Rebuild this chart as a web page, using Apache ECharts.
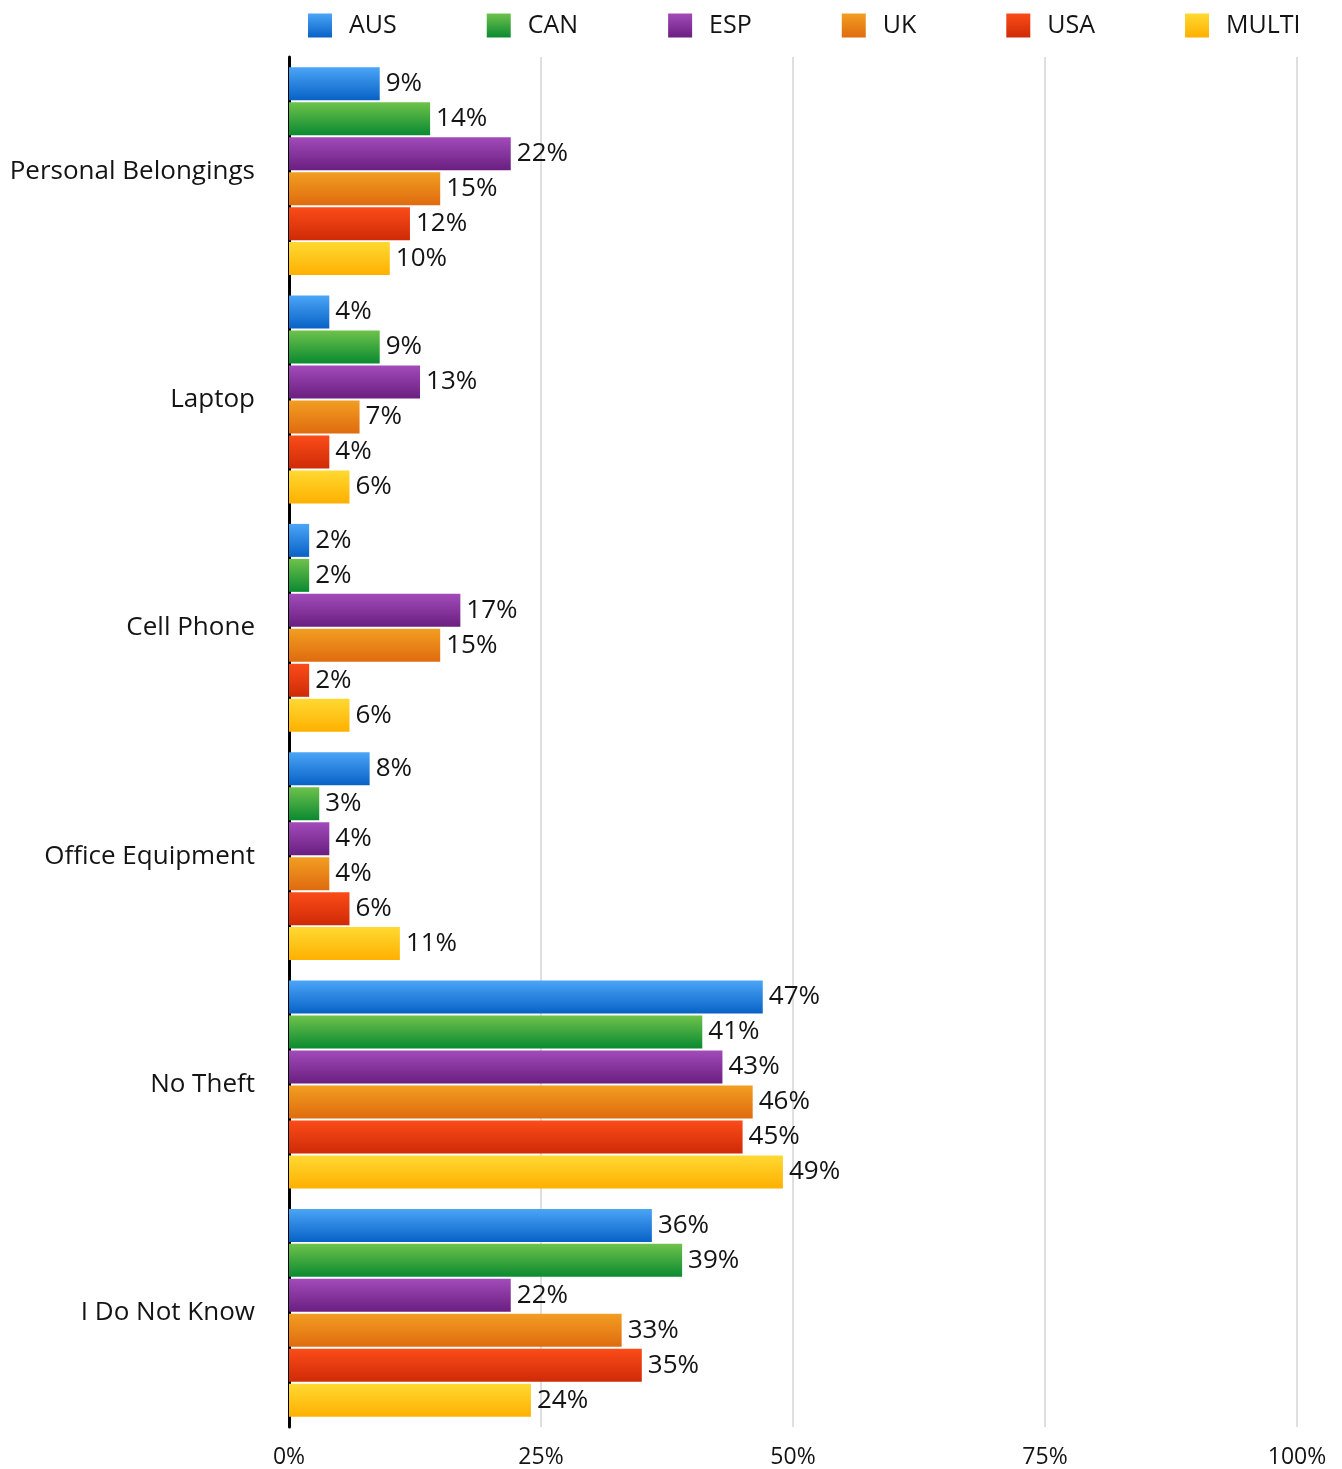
<!DOCTYPE html>
<html>
<head>
<meta charset="utf-8">
<script src="https://cdn.jsdelivr.net/npm/echarts@6/dist/echarts.min.js"></script>
<style>
html, body { margin: 0; padding: 0; background: #fff; }
#chart { width: 1342px; height: 1469px; }
</style>
</head>
<body>
<div id="chart"></div>
<script>
var categories = ['Personal Belongings', 'Laptop', 'Cell Phone', 'Office Equipment', 'No Theft', 'I Do Not Know'];
var seriesNames = ['AUS', 'CAN', 'ESP', 'UK', 'USA', 'MULTI'];
var ausData = [9, 4, 2, 8, 47, 36];
var canData = [14, 9, 2, 3, 41, 39];
var espData = [22, 13, 17, 4, 43, 22];
var ukData = [15, 7, 15, 4, 46, 33];
var usaData = [12, 4, 2, 6, 45, 35];
var multiData = [10, 6, 6, 11, 49, 24];
var xTicks = [0, 25, 50, 75, 100];

var allData = [ausData, canData, espData, ukData, usaData, multiData];
var gradients = [
    ['#4ba5f7', '#0862c6'],
    ['#6fc24b', '#0a8a31'],
    ['#a24bba', '#6a1f80'],
    ['#f29e22', '#df6b0f'],
    ['#fb4c19', '#cf2a07'],
    ['#ffd932', '#ffb000']
];
var font = 'Open Sans';

var grad = function (c) {
    return new echarts.graphic.LinearGradient(0, 0, 0, 1, [
        {offset: 0, color: c[0]},
        {offset: 1, color: c[1]}
    ]);
};

var series = seriesNames.map(function (name, i) {
    return {
        name: name,
        type: 'bar',
        barWidth: 33,
        barGap: '6%',
        data: allData[i],
        itemStyle: {color: grad(gradients[i])},
        label: {
            show: true,
            position: 'right',
            distance: 6,
            formatter: '{c}%',
            color: '#141414',
            fontSize: 26,
            fontFamily: font
        }
    };
});

var option = {
    animation: false,
    textStyle: {fontFamily: font},
    legend: {
        data: seriesNames.map(function (n, i) {
            return {name: n, itemStyle: {color: grad(gradients[i])}};
        }),
        left: 303,
        top: 8,
        icon: 'rect',
        itemWidth: 24,
        itemHeight: 24,
        itemGap: 90,
        textStyle: {
            fontSize: 25,
            color: '#141414',
            fontFamily: font,
            padding: [0, 0, 0, 12]
        }
    },
    grid: {
        left: 289,
        right: 45,
        top: 57,
        bottom: 41,
        containLabel: false
    },
    xAxis: {
        type: 'value',
        min: 0,
        max: 100,
        interval: 25,
        axisLine: {show: false},
        axisTick: {show: false},
        splitLine: {lineStyle: {color: '#d4d4d4', width: 1.5}},
        axisLabel: {
            formatter: function (v) { return xTicks.indexOf(v) >= 0 ? v + '%' : ''; },
            fontSize: 23,
            color: '#141414',
            margin: 19,
            fontFamily: font
        }
    },
    yAxis: {
        type: 'category',
        data: categories,
        inverse: true,
        axisLine: {lineStyle: {color: '#000', width: 3}},
        axisTick: {show: false},
        axisLabel: {
            fontSize: 26,
            color: '#141414',
            margin: 34,
            fontFamily: font
        }
    },
    series: series
};

var myChart = echarts.init(document.getElementById('chart'));
myChart.setOption(option);
</script>
</body>
</html>
